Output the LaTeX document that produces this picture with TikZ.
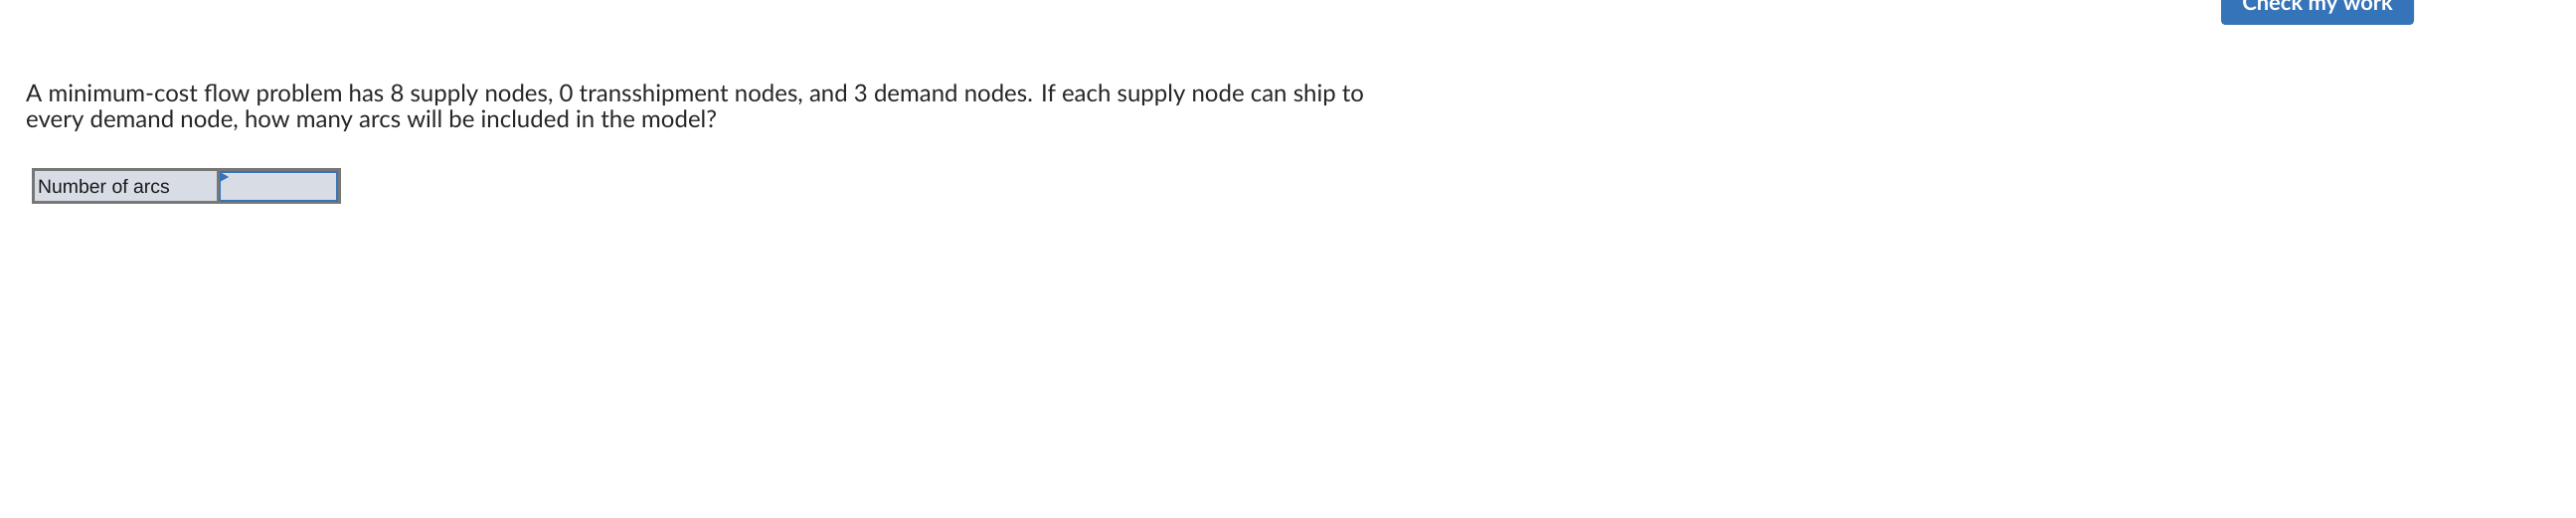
\documentclass[tikz,border=0pt]{standalone}
\usepackage{fontspec}
\setmainfont{Lato}
\newfontfamily\arial{Liberation Sans}
\definecolor{btn}{HTML}{3574B8}
\definecolor{cell}{HTML}{D8DCE5}
\definecolor{bord}{HTML}{777777}
\begin{document}
\begin{tikzpicture}[x=1pt,y=-1pt,
 txt/.style={anchor=west,inner sep=0pt,font=\fontsize{24}{26}\selectfont,text=black!85}]
\useasboundingbox (0,0) rectangle (2591,521);
\fill[btn,rounded corners=4pt] (2234,-10) rectangle (2428,25);
\node[anchor=center,text=white,font=\fontsize{22}{22}\selectfont\bfseries] (btn) at (2331,4) {Check my work};
\node[txt] (l1) at (26,96) {A minimum-cost flow problem has 8 supply nodes, 0 transshipment nodes, and 3 demand nodes. If each supply node can ship to};
\node[txt] (l2) at (26,122) {every demand node, how many arcs will be included in the model?};
\draw[bord,line width=3pt,fill=cell] (33,171) rectangle (219,204);
\node[anchor=west,inner sep=0pt,font=\arial\fontsize{19.4}{20}\selectfont,text=black!90] (lab) at (38,187.5) {Number of arcs};
\draw[bord,line width=3pt,fill=cell] (219,171) rectangle (341,204);
\draw[btn,line width=1.5pt] (221.5,173) rectangle (339,202);
\fill[btn] (221,173) -- (230,178) -- (221,183) -- cycle;
\end{tikzpicture}
\end{document}
